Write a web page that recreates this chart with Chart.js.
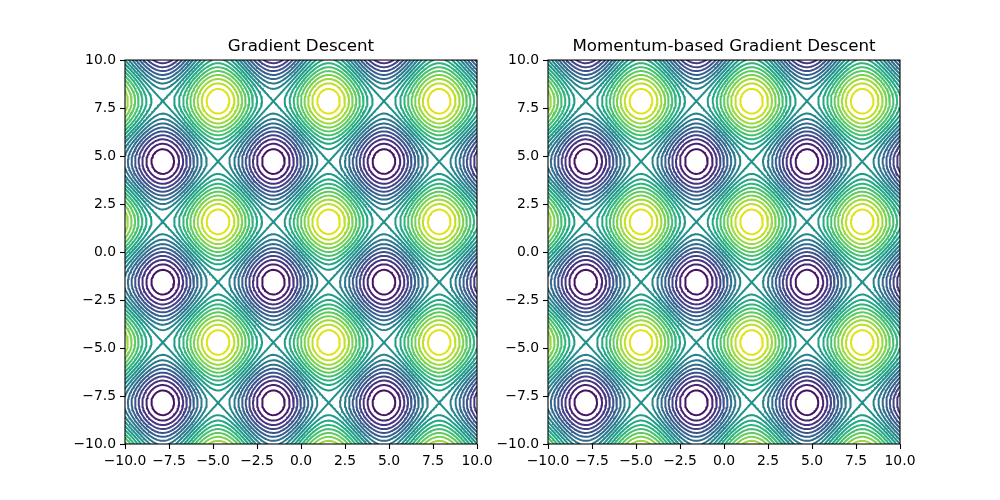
<!DOCTYPE html>
<html>
<head>
<meta charset="utf-8">
<title>Gradient Descent contours</title>
<script src="https://cdn.jsdelivr.net/npm/chart.js@4.4.1/dist/chart.umd.min.js"></script>
<style>
  body { margin: 0; background: #fff; }
  #wrap { position: relative; width: 1000px; height: 500px; }
  #wrap canvas { position: absolute; left: 0; top: 0; }
</style>
</head>
<body>
<div id="wrap">
  <canvas id="leftChart" width="1000" height="500"></canvas>
  <canvas id="rightChart" width="1000" height="500"></canvas>
</div>
<script>
// Data
const titles = ['Gradient Descent', 'Momentum-based Gradient Descent'];
const xRange = [-10, 10];
const yRange = [-10, 10];
const tickValues = [-10, -7.5, -5, -2.5, 0, 2.5, 5, 7.5, 10];
const tickLabels = ['−10.0', '−7.5', '−5.0', '−2.5', '0.0', '2.5', '5.0', '7.5', '10.0'];
const levels = [-1.8, -1.6, -1.4, -1.2, -1.0, -0.8, -0.6, -0.4, -0.2, 0,
                0.2, 0.4, 0.6, 0.8, 1.0, 1.2, 1.4, 1.6, 1.8];
const gridSize = 241;

// viridis, one colour per level (norm -2..2)
const levelColors = ['#471365', '#482475', '#463480', '#414487', '#3b528b', '#355f8d',
                     '#2f6c8e', '#2a788e', '#25848e', '#21918c', '#1e9c89', '#22a884',
                     '#2fb47c', '#44bf70', '#5ec962', '#7ad151', '#9bd93c', '#bddf26', '#dfe318'];

// the surface that both panels contour: maxima at (pi/2, pi/2), minima at (-pi/2, -pi/2), period 2pi
function surface(x, y) {
    return Math.sin(x) + Math.sin(y);
}

function sampleGrid() {
    const xs = [], ys = [], z = [];
    for (let i = 0; i < gridSize; i++) {
        xs.push(xRange[0] + (xRange[1] - xRange[0]) * i / (gridSize - 1));
        ys.push(yRange[0] + (yRange[1] - yRange[0]) * i / (gridSize - 1));
    }
    for (let j = 0; j < gridSize; j++) {
        const row = [];
        for (let i = 0; i < gridSize; i++) row.push(surface(xs[i], ys[j]));
        z.push(row);
    }
    return { xs, ys, z };
}

// marching squares, segments joined into polylines (NaN point = break)
function traceLevel(grid, level) {
    const { xs, ys, z } = grid;
    const n = xs.length;
    const pts = new Map();
    const segs = [];
    const hId = (i, j) => i + j * n;
    const vId = (i, j) => n * n + i + j * n;

    function cross(id, xa, ya, va, xb, yb, vb) {
        if (!pts.has(id)) {
            const t = (level - va) / (vb - va);
            pts.set(id, { x: xa + t * (xb - xa), y: ya + t * (yb - ya) });
        }
        return id;
    }

    for (let j = 0; j < n - 1; j++) {
        for (let i = 0; i < n - 1; i++) {
            const v0 = z[j][i], v1 = z[j][i + 1], v2 = z[j + 1][i + 1], v3 = z[j + 1][i];
            const b0 = v0 > level, b1 = v1 > level, b2 = v2 > level, b3 = v3 > level;
            const e = [];
            if (b0 !== b1) e.push(cross(hId(i, j), xs[i], ys[j], v0, xs[i + 1], ys[j], v1));
            if (b1 !== b2) e.push(cross(vId(i + 1, j), xs[i + 1], ys[j], v1, xs[i + 1], ys[j + 1], v2));
            if (b3 !== b2) e.push(cross(hId(i, j + 1), xs[i], ys[j + 1], v3, xs[i + 1], ys[j + 1], v2));
            if (b0 !== b3) e.push(cross(vId(i, j), xs[i], ys[j], v0, xs[i], ys[j + 1], v3));
            if (e.length === 2) {
                segs.push(e);
            } else if (e.length === 4) {
                const c = (v0 + v1 + v2 + v3) / 4 > level;
                if (c === b0) { segs.push([e[0], e[1]]); segs.push([e[2], e[3]]); }
                else { segs.push([e[0], e[3]]); segs.push([e[1], e[2]]); }
            }
        }
    }

    const adj = new Map();
    segs.forEach((s, k) => {
        s.forEach(id => {
            if (!adj.has(id)) adj.set(id, []);
            adj.get(id).push(k);
        });
    });
    const used = new Array(segs.length).fill(false);

    function walk(start) {
        const out = [];
        let cur = start;
        while (true) {
            const next = adj.get(cur).find(k => !used[k]);
            if (next === undefined) break;
            used[next] = true;
            const s = segs[next];
            cur = s[0] === cur ? s[1] : s[0];
            out.push(cur);
        }
        return out;
    }

    const lines = [];
    for (let k = 0; k < segs.length; k++) {
        if (used[k]) continue;
        used[k] = true;
        const fwd = walk(segs[k][1]);
        const back = walk(segs[k][0]);
        lines.push(back.reverse().concat([segs[k][0], segs[k][1]], fwd).map(id => pts.get(id)));
    }
    return lines;
}

const grid = sampleGrid();
const contourLines = levels.map(level => traceLevel(grid, level));

function contourDatasets() {
    return levels.map((level, li) => {
        const data = [];
        contourLines[li].forEach(line => {
            line.forEach(p => data.push({ x: p.x, y: p.y }));
            data.push({ x: NaN, y: NaN });
        });
        return {
            label: String(level),
            data: data,
            showLine: true,
            spanGaps: false,
            borderColor: levelColors[li],
            borderWidth: 2,
            borderJoinStyle: 'round',
            borderCapStyle: 'round',
            pointRadius: 0,
            clip: 0
        };
    });
}

const frameBox = {
    id: 'frameBox',
    afterDatasetsDraw(chart) {
        const a = chart.chartArea;
        const ctx = chart.ctx;
        ctx.save();
        ctx.strokeStyle = '#000';
        ctx.lineWidth = 1.1;
        ctx.strokeRect(a.left, a.top, a.right - a.left, a.bottom - a.top);
        ctx.restore();
    }
};

Chart.defaults.font.family = 'DejaVu Sans';
Chart.defaults.color = '#000';

function axisOptions(min, max, isX) {
    return {
        type: 'linear',
        min: min,
        max: max,
        afterBuildTicks: scale => {
            scale.ticks = tickValues.map(v => ({ value: v }));
        },
        afterFit: scale => {
            if (isX) {
                scale.height = 56;
                scale.paddingLeft = 0;
                scale.paddingRight = 0;
            } else {
                scale.width = 125;
                scale.paddingTop = 0;
                scale.paddingBottom = 0;
            }
        },
        grid: {
            display: true,
            drawOnChartArea: false,
            drawTicks: true,
            tickLength: 5,
            tickWidth: 1.1,
            tickColor: '#000'
        },
        border: { display: false },
        ticks: {
            autoSkip: false,
            maxRotation: 0,
            padding: 4,
            color: '#000',
            font: { size: 13.9 },
            callback: (value, index) => tickLabels[index]
        }
    };
}

function createContourChart(canvasId, title, padLeft, padRight) {
    const ctx = document.getElementById(canvasId).getContext('2d');
    return new Chart(ctx, {
        type: 'scatter',
        data: { datasets: contourDatasets() },
        plugins: [frameBox],
        options: {
            responsive: false,
            devicePixelRatio: 1,
            animation: false,
            events: [],
            layout: { padding: { left: padLeft, right: padRight, top: 37, bottom: 0 } },
            plugins: {
                legend: { display: false },
                tooltip: { enabled: false },
                title: {
                    display: true,
                    text: title,
                    fullSize: false,
                    color: '#000',
                    font: { size: 16.7, weight: 'normal' },
                    padding: { top: 0, bottom: 3 }
                }
            },
            scales: {
                x: axisOptions(xRange[0], xRange[1], true),
                y: axisOptions(yRange[0], yRange[1], false)
            }
        }
    });
}

document.addEventListener('DOMContentLoaded', function() {
    createContourChart('leftChart', titles[0], 0, 523);
    createContourChart('rightChart', titles[1], 423, 100);
});
</script>
</body>
</html>
